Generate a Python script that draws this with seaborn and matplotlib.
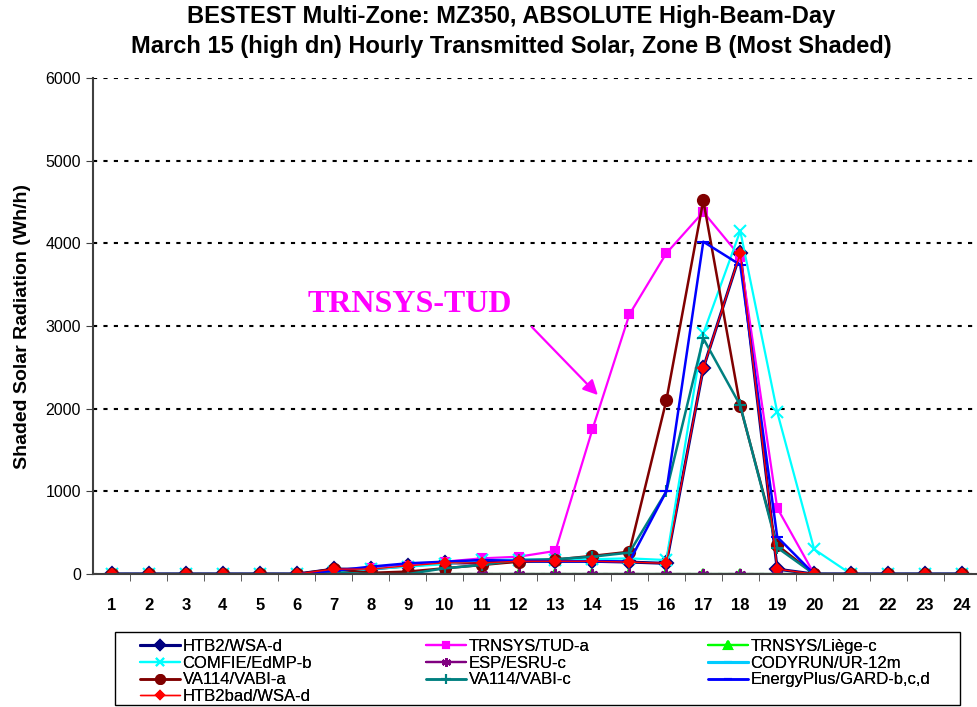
import matplotlib
matplotlib.use("Agg")
import matplotlib.pyplot as plt
import seaborn as sns
import pandas as pd
from matplotlib.patches import Rectangle

hours = list(range(1, 25))

htb2 =      [0,0,0,0,0,0,60,60,100,135,135,155,155,155,145,130,2490,3880,60,0,0,0,0,0]
trnsys_tud = [0,0,0,0,0,0,40,70,100,150,190,210,280,1750,3140,3880,4380,3840,800,0,0,0,0,0]
trnsys_liege = [0]*24
comfie =    [0,0,0,0,0,0,30,60,90,120,170,175,175,180,190,170,2910,4150,1960,300,0,0,0,0]
esp =       [0]*24
codyrun =   [0]*24
vabi_a =    [0,0,0,0,0,0,60,15,30,70,110,150,175,220,270,2100,4520,2030,350,0,0,0,0,0]
vabi_c =    [0,0,0,0,0,0,20,0,0,70,110,170,180,210,260,1000,2850,2040,320,0,0,0,0,0]
eplus =     [0,0,0,0,0,0,40,90,130,150,170,160,155,155,150,1000,4020,3740,450,0,0,0,0,0]
htb2bad =   [0,0,0,0,0,0,60,60,100,135,135,155,155,155,145,130,2490,3880,60,0,0,0,0,0]

series = [
    ("HTB2/WSA-d", htb2, "#000080", "D", 7, 2.2),
    ("TRNSYS/TUD-a", trnsys_tud, "#FF00FF", "s", 6, 1.6),
    ("TRNSYS/Liège-c", trnsys_liege, "#00FF00", "^", 7, 1.6),
    ("COMFIE/EdMP-b", comfie, "#00FFFF", "x", 8, 1.6),
    ("ESP/ESRU-c", esp, "#800080", (6, 2, 0), 8, 1.6),
    ("CODYRUN/UR-12m", codyrun, "#00CCFF", "_", 8, 2.2),
    ("VA114/VABI-a", vabi_a, "#800000", "o", 8, 1.8),
    ("VA114/VABI-c", vabi_c, "#008080", "+", 9, 1.8),
    ("EnergyPlus/GARD-b,c,d", eplus, "#0000FF", "_", 8, 1.8),
    ("HTB2bad/WSA-d", htb2bad, "#FF0000", "D", 5, 1.0),
]

sns.set_style("white")
plt.rcParams['font.family'] = ['Liberation Sans', 'DejaVu Sans']
plt.rcParams.update({'text.color': 'black', 'axes.labelcolor': 'black',
                     'xtick.color': 'black', 'ytick.color': 'black'})

fig = plt.figure(figsize=(9.77, 7.07), dpi=100)
ax = fig.add_axes([0.0957, 0.188, 0.9043, 0.7017])

handles = {}
for name, vals, col, mk, ms, lw in series:
    df = pd.DataFrame({"hour": hours, "val": vals})
    sns.lineplot(data=df, x="hour", y="val", ax=ax, color=col, marker=mk,
                 markersize=ms, linewidth=lw, markeredgecolor=col,
                 markeredgewidth=1.5, label=name, legend=False)
    handles[name] = ax.lines[-1]

ax.set_xlim(0.5, 24.406)
ax.set_ylim(0, 6000)
ax.set_yticks(range(0, 6001, 1000))
ax.set_xticks(hours)
ax.set_xticks([h + 0.5 for h in hours[:-1]], minor=True)
ax.tick_params(axis='x', which='major', length=0, pad=17, labelsize=12)
ax.tick_params(axis='x', which='minor', length=5, direction='out', color='#404040', bottom=True)
ax.tick_params(axis='y', which='major', length=5, direction='out', color='#404040', left=True, labelsize=11.5, pad=4)
for lab in ax.get_xticklabels():
    lab.set_fontweight('bold')
ax.yaxis.grid(True, color='black', linestyle=(0, (2, 3)), linewidth=1.5)
ax.xaxis.grid(False)
ax.set_axisbelow(True)
for s in ['top', 'right']:
    ax.spines[s].set_visible(False)
for s in ['left', 'bottom']:
    ax.spines[s].set_color('#404040')
    ax.spines[s].set_linewidth(1.5)

ax.set_xlabel("")
ax.set_ylabel("Shaded Solar Radiation (Wh/h)", fontsize=14, fontweight='bold', labelpad=10)

fig.suptitle("BESTEST Multi-Zone: MZ350, ABSOLUTE High-Beam-Day\n"
             "March 15 (high dn) Hourly Transmitted Solar, Zone B (Most Shaded)",
             x=0.523, y=0.993, fontsize=17, fontweight='bold', linespacing=1.38)

ax.annotate("", xy=(14.2, 2141), xytext=(12.31, 3012),
            arrowprops=dict(arrowstyle='-|>', color='#FF00FF', lw=1.6,
                            mutation_scale=22))
ax.text(9.06, 3260, "TRNSYS-TUD", color='#FF00FF', fontsize=23, fontweight='bold',
        family=['Liberation Serif', 'DejaVu Serif'], ha='center', va='center')

# legend box frame
fig.add_artist(Rectangle((115/977, 1-705/707), (960-115)/977, (705-632)/707,
                         transform=fig.transFigure, fill=False, edgecolor='black',
                         linewidth=1.0))
cols = [
    (140, ["HTB2/WSA-d", "COMFIE/EdMP-b", "VA114/VABI-a", "HTB2bad/WSA-d"]),
    (426, ["TRNSYS/TUD-a", "ESP/ESRU-c", "VA114/VABI-c"]),
    (708, ["TRNSYS/Liège-c", "CODYRUN/UR-12m", "EnergyPlus/GARD-b,c,d"]),
]
for xpx, names in cols:
    lg = fig.legend([handles[n] for n in names], names, loc='upper left',
                    bbox_to_anchor=(xpx/977, 1-639/707), bbox_transform=fig.transFigure,
                    fontsize=12, frameon=False, labelspacing=0.1,
                    handlelength=2.4, handletextpad=0.15, borderaxespad=0,
                    borderpad=0, markerscale=0.8)
    fig.add_artist(lg)

fig.savefig("out.png", dpi=100)
